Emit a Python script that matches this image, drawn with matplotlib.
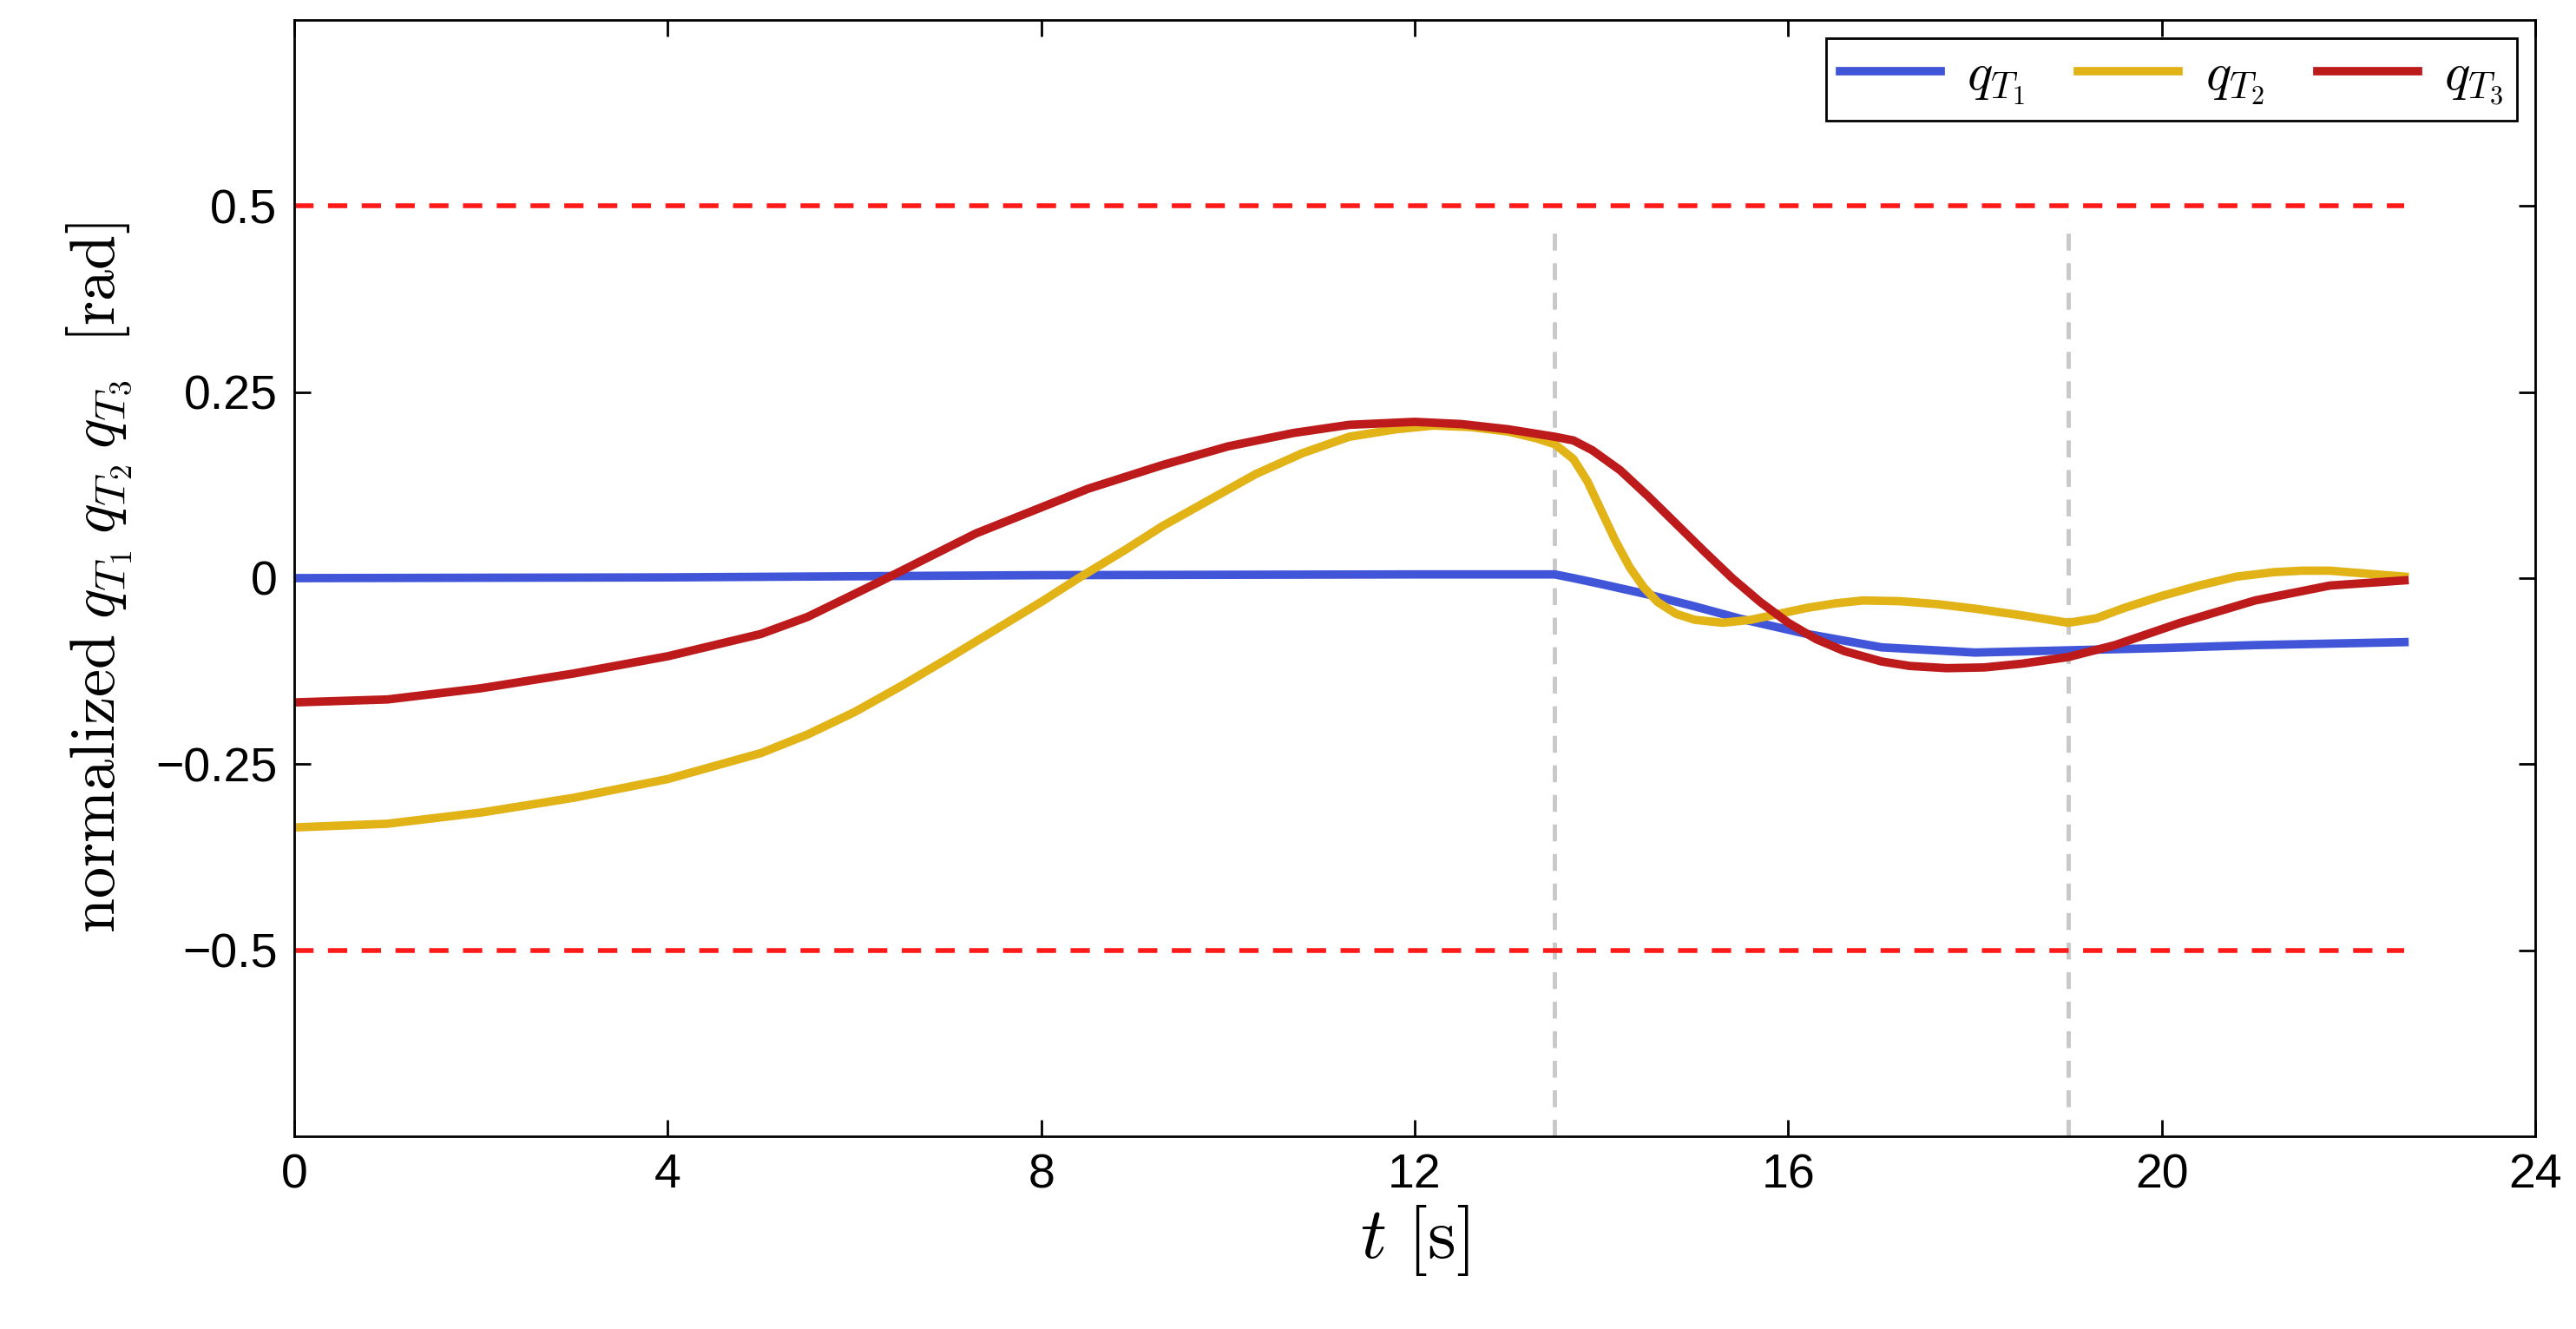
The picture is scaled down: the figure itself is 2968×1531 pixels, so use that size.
import matplotlib
matplotlib.use("Agg")
import matplotlib.pyplot as plt

plt.rcParams.update({
    "font.family": "Liberation Sans",
    "mathtext.fontset": "cm",
    "xtick.direction": "in",
    "ytick.direction": "in",
    "xtick.top": True,
    "ytick.right": True,
})

t_q1 = [0, 4, 8, 12, 13.5, 13.7, 14.0, 14.5, 15.0, 15.5, 16.2, 17.0, 18.0, 19.0, 20.0, 21.0, 22.6]
q1 = [0, 0.001, 0.004, 0.005, 0.005, 0.0, -0.008, -0.022, -0.038, -0.055, -0.075, -0.093,
      -0.1, -0.097, -0.094, -0.09, -0.086]

t_q2 = [0, 1, 2, 3, 4, 5, 5.5, 6.0, 6.5, 7.0, 7.5, 8.0, 8.4, 8.9, 9.3, 9.8, 10.3, 10.8, 11.3,
        11.8, 12.2, 12.6, 13.0, 13.3, 13.5, 13.7, 13.85, 14.0, 14.15, 14.3, 14.45, 14.6, 14.8,
        15.0, 15.3, 15.6, 15.9, 16.2, 16.5, 16.8, 17.2, 17.6, 18.0, 18.5, 18.8, 19.0, 19.3,
        19.6, 20.0, 20.4, 20.8, 21.2, 21.5, 21.8, 22.2, 22.6]
q2 = [-0.335, -0.33, -0.315, -0.295, -0.27, -0.235, -0.21, -0.18, -0.145, -0.108, -0.07,
      -0.032, 0.0, 0.038, 0.07, 0.105, 0.14, 0.168, 0.19, 0.2, 0.205, 0.203, 0.197, 0.188,
      0.18, 0.16, 0.13, 0.09, 0.05, 0.015, -0.012, -0.032, -0.048, -0.056, -0.06, -0.056,
      -0.048, -0.04, -0.034, -0.03, -0.031, -0.035, -0.041, -0.05, -0.056, -0.06, -0.054,
      -0.04, -0.024, -0.01, 0.002, 0.008, 0.01, 0.01, 0.006, 0.002]

t_q3 = [0, 1, 2, 3, 4, 5, 5.5, 6.3, 7.3, 8.5, 9.3, 10.0, 10.7, 11.3, 12.0, 12.5, 13.0,
        13.5, 13.7, 13.9, 14.2, 14.5, 14.8, 15.1, 15.4, 15.7, 16.0, 16.3, 16.6, 17.0, 17.3,
        17.7, 18.1, 18.5, 19.0, 19.5, 20.2, 21.0, 21.8, 22.6]
q3 = [-0.167, -0.163, -0.148, -0.128, -0.105, -0.075, -0.052, -0.003, 0.06, 0.12, 0.152,
      0.177, 0.195, 0.206, 0.21, 0.207, 0.2, 0.19, 0.185, 0.172, 0.145, 0.11, 0.073, 0.036,
      0.0, -0.032, -0.06, -0.082, -0.098, -0.112, -0.118, -0.121, -0.12, -0.115, -0.106,
      -0.09, -0.06, -0.03, -0.01, -0.003]

limit = 0.5
t_end = 22.6
switch_times = [13.5, 19.0]

fig = plt.figure(figsize=(29.68, 15.31), dpi=100)
ax = fig.add_axes([339 / 2968, 1 - 1309 / 1531, (2921 - 339) / 2968, (1309 - 23) / 1531])

for ts in switch_times:
    ax.plot([ts, ts], [-0.75, 0.48], color="#c8c8c8", lw=3.5, ls=(0, (4, 3)))
for y in (limit, -limit):
    ax.plot([0, t_end], [y, y], color="#ff1a1a", lw=4, ls=(0, (4, 3)))

ax.plot(t_q1, q1, color="#4055d8", lw=7, label=r"$q_{T_1}$")
ax.plot(t_q2, q2, color="#e2b317", lw=7, label=r"$q_{T_2}$")
ax.plot(t_q3, q3, color="#bd1b1b", lw=7, label=r"$q_{T_3}$")

ax.set_xlim(0, 24)
ax.set_ylim(-0.75, 0.75)
ax.set_xticks([0, 4, 8, 12, 16, 20, 24])
ax.set_yticks([-0.5, -0.25, 0, 0.25, 0.5])
ax.set_yticklabels(["\u22120.5", "\u22120.25", "0", "0.25", "0.5"])
ax.tick_params(labelsize=40, length=14, width=2, pad=14)
for s in ax.spines.values():
    s.set_linewidth(2)

ax.set_xlabel(r"$t\ [\mathrm{s}]$", fontsize=60, labelpad=4)
ax.set_ylabel(r"$\mathrm{normalized}\;q_{T_1}\,q_{T_2}\,q_{T_3}\;\;[\mathrm{rad}]$",
              fontsize=52, labelpad=18)

leg = ax.legend(loc="upper right", ncol=3, fontsize=44, fancybox=False,
                framealpha=1, edgecolor="black", borderaxespad=0.35,
                handlelength=1.9, handletextpad=0.5, columnspacing=1.0,
                borderpad=0.25)
leg.get_frame().set_linewidth(2)

fig.savefig("out.png", dpi=100)
